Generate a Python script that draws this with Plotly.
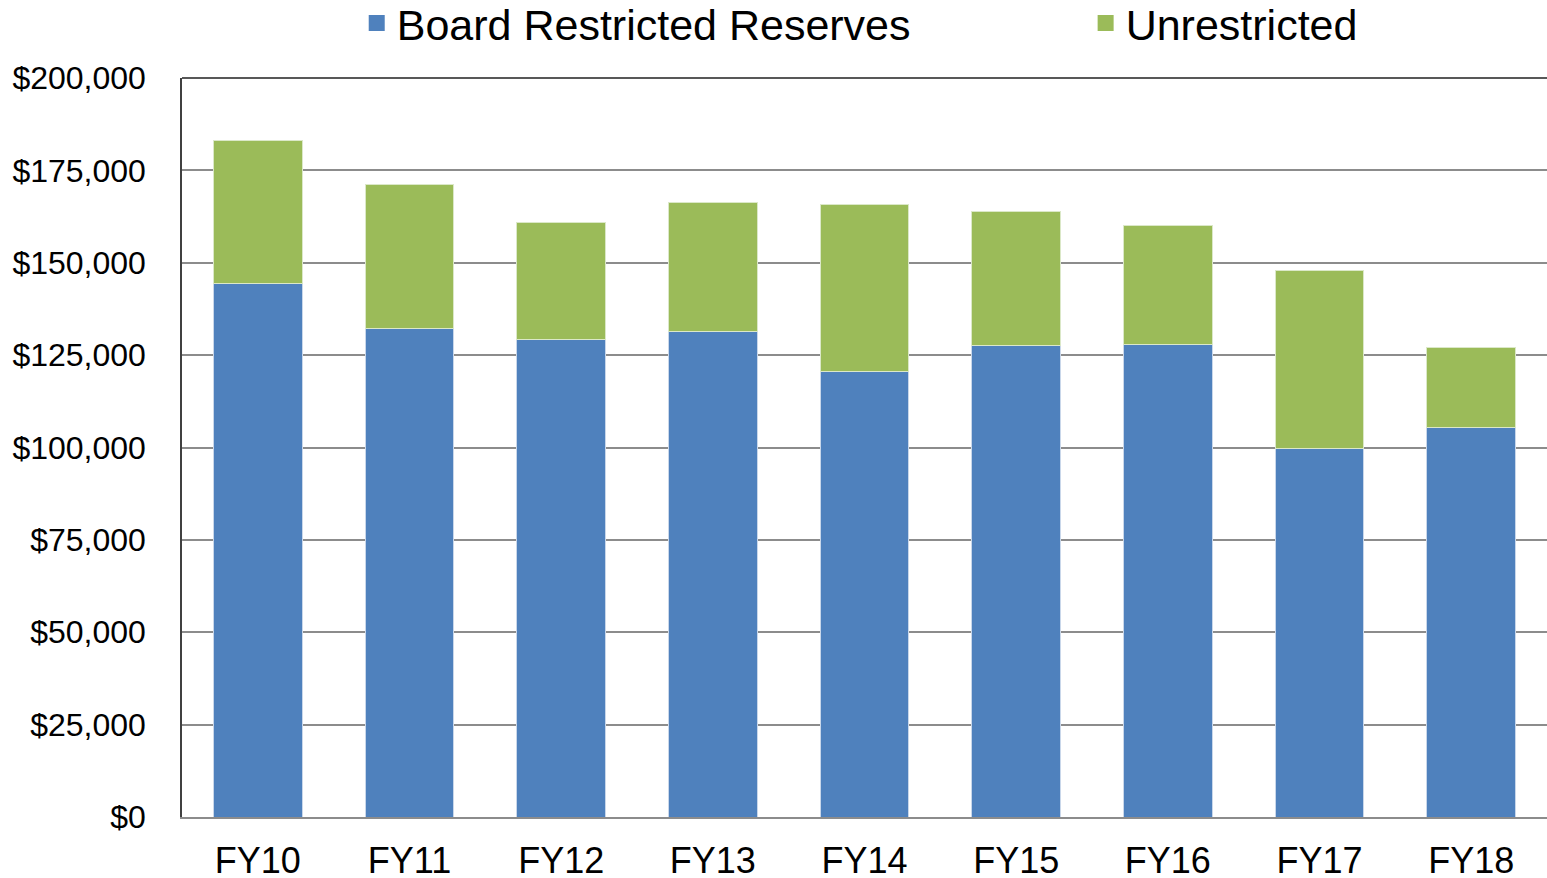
import plotly.graph_objects as go

years = ["FY10", "FY11", "FY12", "FY13", "FY14", "FY15", "FY16", "FY17", "FY18"]
board_restricted = [144300, 132100, 129100, 131500, 120700, 127500, 128000, 99600, 105300]
unrestricted = [38700, 39000, 31900, 34700, 45200, 36500, 32200, 48400, 21900]

blue = "#4F81BD"
green = "#9BBB59"
font_name = "Liberation Sans, Arial, sans-serif"

fig = go.Figure()
fig.add_trace(go.Bar(x=years, y=board_restricted, name="Board Restricted Reserves",
                     marker=dict(color=blue, line=dict(color="#c9d7ea", width=1)),
                     showlegend=False))
fig.add_trace(go.Bar(x=years, y=unrestricted, name="Unrestricted",
                     marker=dict(color=green, line=dict(color="#dbe8c8", width=1)),
                     showlegend=False))

# legend-only entries so the legend squares come out bigger than bar swatches
fig.add_trace(go.Scatter(x=[None], y=[None], mode="markers", name="Board Restricted Reserves",
                         marker=dict(symbol="square", size=22, color=blue), legend="legend"))
fig.add_trace(go.Scatter(x=[None], y=[None], mode="markers", name="Unrestricted",
                         marker=dict(symbol="square", size=22, color=green), legend="legend2"))

leg_style = dict(orientation="h", xanchor="left", yref="container", y=1 - 23 / 878,
                 yanchor="middle", font=dict(size=43), bgcolor="rgba(0,0,0,0)")

fig.update_layout(
    width=1547, height=878,
    barmode="stack", bargap=0.415,
    plot_bgcolor="white", paper_bgcolor="white",
    font=dict(family=font_name, color="black"),
    margin=dict(l=182, r=0, t=78, b=61, autoexpand=False),
    legend=dict(x=0.128, **leg_style),
    legend2=dict(x=0.662, **leg_style),
)
fig.update_yaxes(range=[0, 200000], dtick=25000, tickprefix="$", tickformat=",",
                 tickfont=dict(size=32), ticklabelstandoff=28, automargin=False,
                 showgrid=True, gridcolor="#8c8c8c", gridwidth=1.5,
                 showline=True, linecolor="#404040", linewidth=1.5, zeroline=False)
fig.update_xaxes(tickfont=dict(size=36), ticklabelstandoff=11, automargin=False,
                 showline=True, linecolor="#8c8c8c", linewidth=2)

# top border of the plot area
fig.add_shape(type="line", xref="paper", yref="paper", x0=0, x1=1, y0=1, y1=1,
              line=dict(color="#202020", width=1.5))

fig.write_html("out.html", config={"displayModeBar": False},
               post_script="document.body.style.margin='0';document.body.style.overflow='hidden';")
